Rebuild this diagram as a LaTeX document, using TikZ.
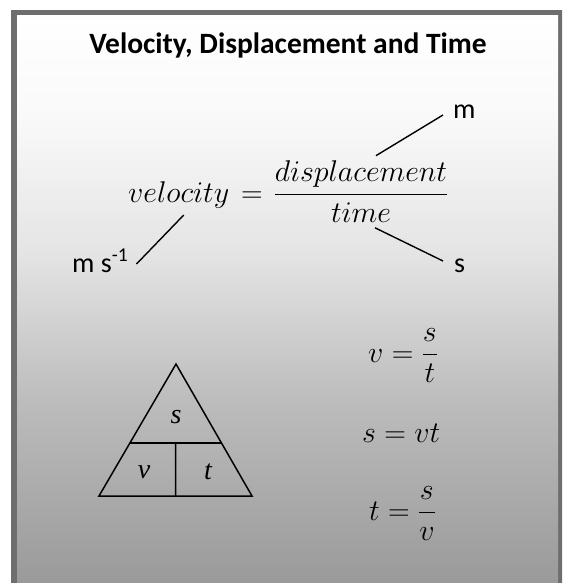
\RequirePackage{fix-cm}
\documentclass[tikz,border=0pt]{standalone}
\usepackage{amsmath}
\usepackage[no-math]{fontspec}
\usetikzlibrary{calc}
\newfontfamily\calfont{Carlito}
\newfontfamily\trifont{Liberation Serif}
\definecolor{framegray}{HTML}{6E6E6E}
\definecolor{fadeA}{HTML}{9A9A9A}
\definecolor{fadeB}{HTML}{BCBCBC}
\definecolor{fadeC}{HTML}{E4E4E4}
\definecolor{fadeD}{HTML}{F9F9F9}
\pgfdeclareverticalshading{boxfade}{100bp}{color(0bp)=(fadeA); color(25bp)=(fadeA);
  color(41bp)=(fadeB); color(54bp)=(fadeC); color(66bp)=(fadeD); color(75bp)=(white); color(100bp)=(white)}

\begin{document}
\begin{tikzpicture}[x=1pt,y=-1pt,
  unit/.style={font=\calfont\fontsize{28}{32}\selectfont,inner sep=0pt},
  eqn/.style={font=\fontsize{30}{36}\selectfont,inner sep=0pt},
  tri/.style={font=\trifont\itshape\fontsize{28}{32}\selectfont,inner sep=0pt},
  leader/.style={line width=1.4pt}]
\clip (0,0) rectangle (562,583);
\fill[white] (0,0) rectangle (562,583);
\fill[framegray] (11,10) rectangle (570,600);
\shade[shading=boxfade] (17,16) rectangle (558,583);

\node[font=\calfont\bfseries\fontsize{29.5}{34}\selectfont,anchor=base] (title) at (288,54) {Velocity, Displacement and Time};

\node[eqn,anchor=base west] (vel) at (128,202) {$velocity$};
\node[eqn,anchor=base] (equal) at (252,202) {$=$};
\node[eqn,anchor=base] (frac) at (361,202) {$\dfrac{displacement}{time}$};

\node[unit,anchor=base west] (unitv) at (72,272) {m s\textsuperscript{-1}};
\node[unit,anchor=base west] (unitm) at (453,118) {m};
\node[unit,anchor=base west] (units) at (454,272) {s};

\draw[leader] ($(vel.south)+(5,7)$) -- ($(unitv.base east)+(8,-8)$);
\draw[leader] ($(frac.north)+(15,-5)$) -- ($(unitm.base west)+(-10,-3)$);
\draw[leader] ($(frac.south)+(14,5)$) -- ($(units.base west)+(-11,-11)$);

\coordinate (apex) at (176,364);
\coordinate (bl) at (99,496);
\coordinate (br) at (252,496);
\draw[line width=1.5pt,line join=miter] (apex) -- (bl) -- (br) -- cycle;
\draw[line width=1.5pt] ($(apex)!0.6!(bl)$) coordinate (ml) -- ($(apex)!0.6!(br)$) coordinate (mr);
\draw[line width=1.5pt] ($(ml)!0.5!(mr)$) -- ($(bl)!0.5!(br)$);
\node[tri] (ts) at (176,417) {s};
\node[tri] (tv) at (144,472) {v};
\node[tri] (tt) at (208,472) {t};

\node[eqn,anchor=base west] (eqv) at (368,362) {$v=\dfrac{s}{t}$};
\node[eqn,anchor=base west] (eqs) at (362,442) {$s=vt$};
\node[eqn,anchor=base west] (eqt) at (369,520) {$t=\dfrac{s}{v}$};
\end{tikzpicture}
\end{document}
